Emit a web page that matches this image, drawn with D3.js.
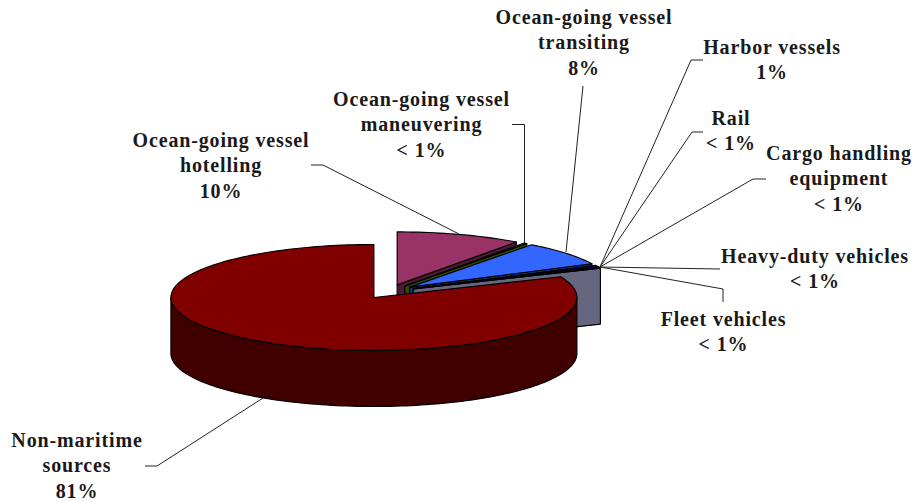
<!DOCTYPE html>
<html>
<head>
<meta charset="utf-8">
<style>
html,body{margin:0;padding:0;background:#fff}
svg{display:block}
text{font-family:"Liberation Serif",serif;font-weight:bold;font-size:20px;letter-spacing:0.85px;fill:#1a1a1a;text-anchor:middle}
</style>
<script src="https://cdn.jsdelivr.net/npm/d3@7"></script>
</head>
<body>
<svg id="chart" width="913" height="501"></svg>
<script>
// Emission source shares, in percent, clockwise from twelve o'clock.
const sources = ["Ocean-going vessel hotelling","Ocean-going vessel maneuvering","Ocean-going vessel transiting","Harbor vessels","Rail","Cargo handling equipment","Heavy-duty vehicles","Fleet vehicles","Non-maritime sources"];
const shares = [10, 0.25, 7.5, 0.5, 0.05, 0.05, 0.1, 0.15, 81.4];
const valueLabels = ["10%","< 1%","8%","1%","< 1%","< 1%","< 1%","< 1%","81%"];
const nameLines = [["Ocean-going vessel","hotelling"],["Ocean-going vessel","maneuvering"],["Ocean-going vessel","transiting"],["Harbor vessels"],["Rail"],["Cargo handling","equipment"],["Heavy-duty vehicles"],["Fleet vehicles"],["Non-maritime","sources"]];
const topColors = ["#993366","#669900","#3366ff","#000080","#ff00ff","#800000","#660066","#ccccff","#800000"];

// Label anchors and leader elbows for each slice.
const labelCenters = [[221,140],[421.5,99],[584,17],[772,47],[731,118],[839,153],[815,256],[723.5,319],[77,440]];
const leaders = [[[459,234],[323,165],[311,165]],[[524.5,243],[524.5,124.5],[512,124.5]],[[566,252],[583,86]],[[600,267],[691,60],[703,60]],[[600,267],[692,132],[703,132]],[[600,267],[753,179],[766,179]],[[600,267],[720,269]],[[600,267],[723,289],[723,302]],[[263,398],[157,466],[145,466]]];

const svg = d3.select("#chart");
const deg = Math.PI / 180;

// Projected ellipse of the tilted pie.
const cx = 388.8, cy = 291.6, rx = 203, ry = 53, depth = 56, explode = 0.133;

const angle = d3.scaleLinear().domain([0, d3.sum(shares)]).range([0, 360]);
let running = 0;
const slices = shares.map((v, i) => {
  const a0 = angle(running); running += v; const a1 = angle(running);
  const mid = (a0 + a1) / 2 * deg;
  return {i, a0, a1, ox: cx + rx * explode * Math.sin(mid), oy: cy - ry * explode * Math.cos(mid)};
});

const pt = (s, a, dy = 0) => [s.ox + rx * Math.sin(a * deg), s.oy - ry * Math.cos(a * deg) + dy];
const arcPts = (s, a0, a1, dy = 0) => {
  const n = Math.max(2, Math.ceil(Math.abs(a1 - a0) / 1.5)), out = [];
  for (let k = 0; k <= n; k++) out.push(pt(s, a0 + (a1 - a0) * k / n, dy));
  return out;
};
const line = d3.line();
const dark = c => { const r = d3.rgb(c); return d3.rgb(r.r / 2, r.g / 2, r.b / 2).formatHex(); };
const poly = (pts, fill) => svg.append("path").attr("d", line(pts) + "Z").attr("fill", fill)
  .attr("stroke", "#000").attr("stroke-width", 1.15).attr("stroke-linejoin", "round");

// Painter's order: back slices first, each with cut face, outer wall, then top.
slices.forEach(s => {
  const base = topColors[s.i], shade = dark(base);
  const o = [s.ox, s.oy];
  if (s.a1 < 180) {
    const c = pt(s, s.a1);
    poly([o, c, [c[0], c[1] + depth], [o[0], o[1] + depth]], shade);
  }
  const w0 = Math.max(s.a0, 90), w1 = Math.min(s.a1, 270);
  if (w1 > w0) {
    poly([...arcPts(s, w0, w1), ...arcPts(s, w1, w0, depth)], shade);
  }
  poly([o, ...arcPts(s, s.a0, s.a1)], base);
});

// Leader lines and labels.
leaders.forEach(l => {
  svg.append("path").attr("d", line(l)).attr("fill", "none").attr("stroke", "#222").attr("stroke-width", 1);
});
const lineH = 25.3;
slices.forEach(s => {
  const [x, y] = labelCenters[s.i];
  const g = svg.append("text").attr("transform", `translate(${x},${y})`);
  [...nameLines[s.i], valueLabels[s.i]].forEach((t, k) => {
    g.append("tspan").attr("x", 0).attr("y", k * lineH).attr("dy", "0.35em").text(t);
  });
});
</script>
</body>
</html>
